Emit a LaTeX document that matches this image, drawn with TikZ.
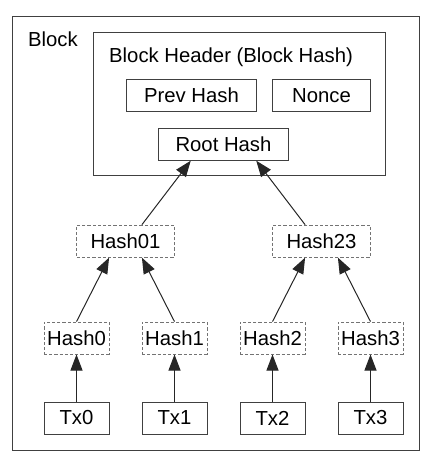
\documentclass[tikz,border=0pt]{standalone}
\usepackage{fontspec}
\setmainfont{Liberation Sans}
\usepackage{tikz}
\usetikzlibrary{arrows.meta,positioning,fit,backgrounds,calc}

\begin{document}
\begin{tikzpicture}[font=\fontsize{20.3}{24}\selectfont,
  frame/.style={draw=black!75,line width=1pt},
  txbox/.style={draw=black!75,line width=1pt,minimum width=65pt,minimum height=32pt,inner sep=0pt},
  hbox/.style={draw=black!55,line width=0.9pt,dash pattern=on 3.2pt off 2pt,minimum width=65pt,minimum height=32pt,inner sep=0pt},
  hhbox/.style={hbox,minimum width=97.5pt},
  field/.style={draw=black!75,line width=1pt,minimum height=32pt,inner sep=0pt},
  arr/.style={-{Triangle[length=16pt,width=12pt]},line width=1pt,black!85}]
\useasboundingbox (0,0) rectangle (430pt,-466pt);
% transactions and their hashes
\node[txbox] (tx0) at (76.5pt,-418pt) {Tx0};
\node[txbox,right=32pt of tx0] (tx1) {Tx1};
\node[txbox,right=32pt of tx1] (tx2) {Tx2};
\node[txbox,right=32pt of tx2] (tx3) {Tx3};
\node[hbox,above=47pt of tx0] (h0) {Hash0};
\node[hbox,above=47pt of tx1] (h1) {Hash1};
\node[hbox,above=47pt of tx2] (h2) {Hash2};
\node[hbox,above=47pt of tx3] (h3) {Hash3};
\coordinate (c01) at ($(h0.north)!.5!(h1.north)$);
\coordinate (c23) at ($(h2.north)!.5!(h3.north)$);
\node[hhbox,above=64pt of c01] (h01) {Hash01};
\node[hhbox,above=64pt of c23] (h23) {Hash23};
\coordinate (c0123) at ($(h01.north)!.5!(h23.north)$);
% block header
\node[field,minimum width=130pt,above=64pt of c0123] (root) {Root Hash};
\node[field,minimum width=130pt,above=16pt of root,xshift=-32pt] (prev) {Prev Hash};
\node[field,minimum width=98pt,right=15pt of prev] (nonce) {Nonce};
\node[frame,minimum width=292pt,minimum height=143pt,anchor=south west] (hdr) at ($(root.south west)+(-65pt,-15pt)$) {};
\node[anchor=north west,inner sep=0pt] (title) at ($(hdr.north west)+(16pt,-16pt)$) {Block Header (Block Hash)};
\node[anchor=north east,inner sep=0pt] (blk) at ($(hdr.north west)+(-15pt,0pt)$) {Block};
\begin{scope}[on background layer]
\node[frame,inner sep=15.5pt,fit=(blk)(hdr)(tx0)(tx3)] (blockbox) {};
\end{scope}
\draw[arr] (tx0) -- (h0);
\draw[arr] (tx1) -- (h1);
\draw[arr] (tx2) -- (h2);
\draw[arr] (tx3) -- (h3);
\draw[arr] (h0.north) -- ($(h01.south west)!1/3!(h01.south east)$);
\draw[arr] (h1.north) -- ($(h01.south west)!2/3!(h01.south east)$);
\draw[arr] (h2.north) -- ($(h23.south west)!1/3!(h23.south east)$);
\draw[arr] (h3.north) -- ($(h23.south west)!2/3!(h23.south east)$);
\draw[arr] ($(h01.north west)!2/3!(h01.north east)$) -- ($(root.south west)!.25!(root.south east)$);
\draw[arr] ($(h23.north west)!1/3!(h23.north east)$) -- ($(root.south west)!.75!(root.south east)$);
\end{tikzpicture}
\end{document}
